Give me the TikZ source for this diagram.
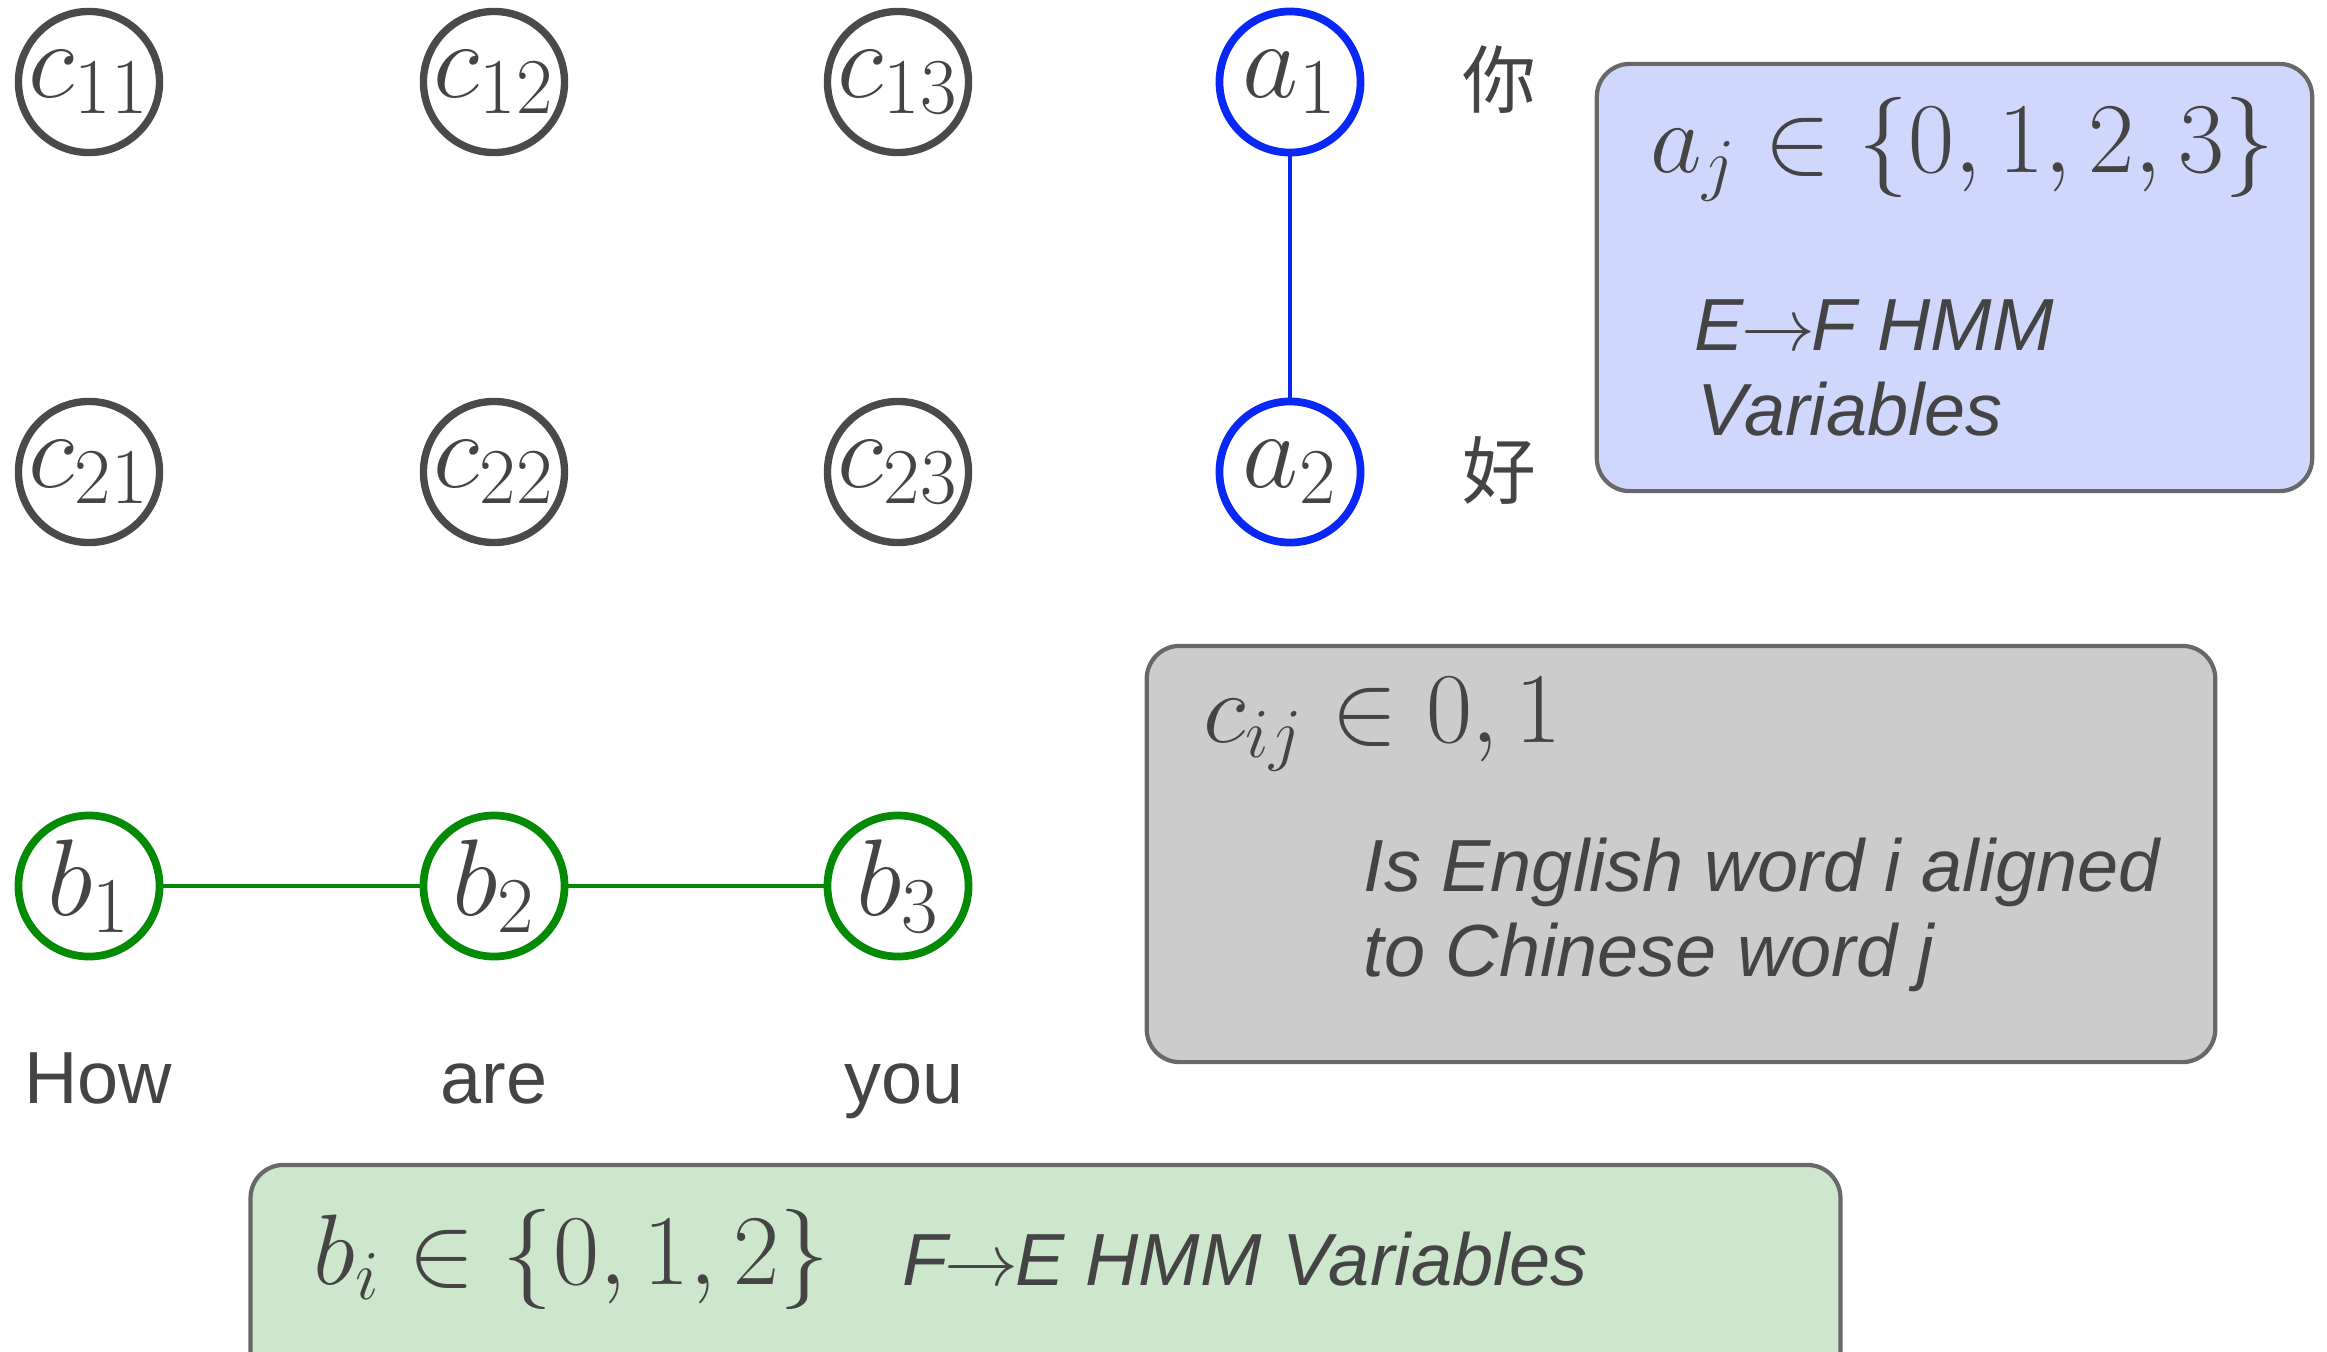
\RequirePackage{fix-cm}
\documentclass[tikz,border=0pt]{standalone}
\usepackage[no-math]{fontspec}
\newfontfamily\lsans{Liberation Sans}
\newfontfamily\cjk{Noto Sans CJK SC}
\definecolor{ringgray}{HTML}{4A4A4A}
\definecolor{txtgray}{HTML}{444444}
\definecolor{ringblue}{HTML}{0A28F5}
\definecolor{ringgreen}{HTML}{058A05}
\definecolor{boxedge}{HTML}{686868}
\definecolor{bluefill}{HTML}{CFD8FC}
\definecolor{grayfill}{HTML}{CCCCCC}
\definecolor{greenfill}{HTML}{CCE7CC}
\DeclareMathSizes{31}{31}{22.5}{16}
\newcommand{\mathsz}{\fontsize{28.5}{34}\selectfont}
\newcommand{\nodesz}{\fontsize{31}{36}\selectfont}
\newcommand{\txtsz}{\fontsize{21}{25}\selectfont}
\newcommand{\arr}{\kern-0.04em$\rightarrow$\kern-0.04em}
\begin{document}
\begin{tikzpicture}[x=0.01cm,y=-0.01cm,
  var/.style={circle, line width=2.1pt, minimum size=1.41cm, inner sep=0pt, font=\nodesz, text=txtgray},
  cvar/.style={var, draw=ringgray},
  avar/.style={var, draw=ringblue, line width=2.2pt},
  bvar/.style={var, draw=ringgreen, line width=2.2pt},
  infobox/.style={draw=boxedge, line width=1.2pt, rounded corners=0.33cm, inner sep=0pt},
  label/.style={inner sep=0pt, text=txtgray},
  wordlbl/.style={label, font=\lsans\txtsz, anchor=base},
  boxtxt/.style={label, font=\lsans\itshape\txtsz, anchor=base west},
  boxmath/.style={label, font=\mathsz, anchor=base west}]
\useasboundingbox (0,0) rectangle (2327,1351);
\clip (0,0) rectangle (2327,1351);

% boxes
\node[infobox, fill=bluefill, minimum width=7.15cm, minimum height=4.27cm] (abox) at (1954.5,277.5) {};
\node[infobox, fill=grayfill, minimum width=10.68cm, minimum height=4.16cm] (cbox) at (1681,854) {};
\node[infobox, fill=greenfill, minimum width=15.89cm, minimum height=2.5cm] (bbox) at (1045.5,1290) {};

% c grid
\node[cvar] (c11) at (89,82) {$c_{11}$};
\node[cvar] (c12) at (494,82) {$c_{12}$};
\node[cvar] (c13) at (898,82) {$c_{13}$};
\node[cvar] (c21) at (89,472) {$c_{21}$};
\node[cvar] (c22) at (494,472) {$c_{22}$};
\node[cvar] (c23) at (898,472) {$c_{23}$};

% a chain
\node[avar] (a1) at (1290,82) {$a_1$};
\node[avar] (a2) at (1290,472) {$a_2$};
\draw[ringblue, line width=1.3pt] (a1) -- (a2);

% b chain
\node[bvar] (b1) at (89,886) {$b_1$};
\node[bvar] (b2) at (494,886) {$b_2$};
\node[bvar] (b3) at (898,886) {$b_3$};
\draw[ringgreen, line width=1.4pt] (b1) -- (b2);
\draw[ringgreen, line width=1.4pt] (b2) -- (b3);

% words
\node[wordlbl] (how) at (98,1103) {How};
\node[wordlbl] (are) at (494,1103) {are};
\node[wordlbl] (you) at (904,1103) {you};
\node[label, font=\cjk\txtsz] (ni) at (1499,80) {你};
\node[label, font=\cjk\txtsz] (hao) at (1499,470) {好};

% box texts
\node[boxmath] (amath) at (1650,172) {$a_j \in \{0,1,2,3\}$};
\node[boxtxt] (atxt1) at (1694,350) {E\arr F HMM};
\node[boxtxt] (atxt2) at (1697,435) {Variables};
\node[boxmath] (cmath) at (1203,742) {$c_{ij} \in 0,1$};
\node[boxtxt] (ctxt1) at (1363,891) {Is English word i aligned};
\node[boxtxt] (ctxt2) at (1363,976) {to Chinese word j};
\node[boxmath] (bmath) at (313,1284) {$b_i \in \{0,1,2\}$};
\node[boxtxt] (btxt) at (902,1285) {F\arr E HMM Variables};
\end{tikzpicture}
\end{document}
